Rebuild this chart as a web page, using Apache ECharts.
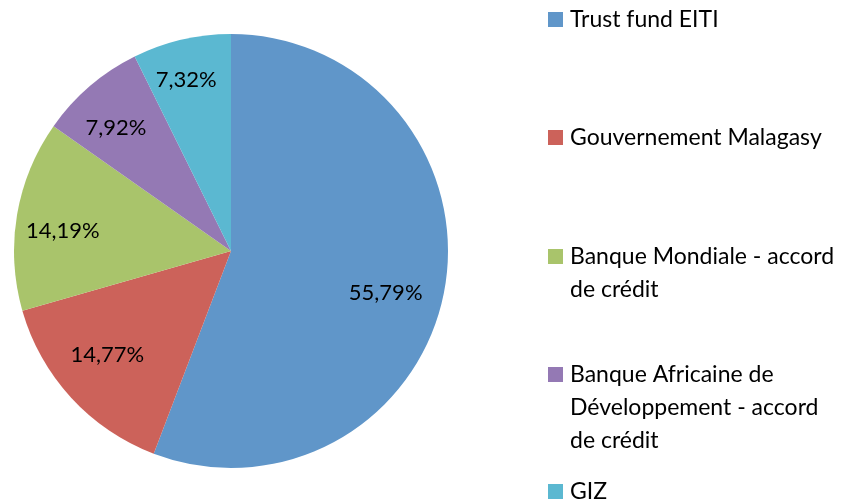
<!DOCTYPE html>
<html>
<head>
<meta charset="utf-8">
<script src="https://cdn.jsdelivr.net/npm/echarts@6/dist/echarts.min.js"></script>
<style>
  html, body { margin: 0; padding: 0; background: #fff; }
  #chart { width: 856px; height: 503px; }
</style>
</head>
<body>
<div id="chart"></div>
<script>
// legend text, split as it wraps in the picture
const legendLines = [
  ['Trust fund EITI'],
  ['Gouvernement Malagasy'],
  ['Banque Mondiale - accord', 'de crédit'],
  ['Banque Africaine de', 'Développement - accord', 'de crédit'],
  ['GIZ']
]
const shares = [55.79, 14.77, 14.19, 7.92, 7.32]
const colors = ['#6096c9', '#cc625a', '#a9c46b', '#9479b4', '#5bb8d1']

// small nudges so the labels sit where excel put them
const labelNudge = [[-13, 11], [2, -11], [0, 8], [-4, 6], [-6, -5]]
const legendTops = [8, 126, 245, 363, 480]
const FONT = 'Lato, "Open Sans", sans-serif'

const names = legendLines.map(l => l.join(' '))
const pieData = names.map((n, i) => ({ name: n, value: shares[i] }))
const labelData = pieData.map((d, i) => Object.assign({ label: { offset: labelNudge[i] } }, d))

var chart = echarts.init(document.getElementById('chart'))

const legends = names.map((n, i) => ({
  data: [n],
  left: 543,
  top: legendTops[i],
  padding: 0,
  itemWidth: 0,
  itemHeight: 0,
  selectedMode: false,
  formatter: () => legendLines[i]
    .map((l, j) => (j === 0 ? '{m|}' : '{s|}') + '{t|' + l + '}')
    .join('\n'),
  textStyle: {
    rich: {
      m: { width: 15, height: 15, backgroundColor: colors[i] },
      s: { width: 15, height: 15 },
      t: { fontFamily: FONT, fontSize: 23, lineHeight: 33, color: '#000', padding: [0, 0, 0, 7] }
    }
  }
}))

chart.setOption({
  animation: false,
  color: colors,
  legend: legends,
  series: [{
    type: 'pie',
    center: [231, 251],
    radius: [0, 217],
    startAngle: 90,
    clockwise: true,
    silent: true,
    label: { show: false },
    labelLine: { show: false },
    data: pieData
  }, {
    // transparent ring only to place the labels further out
    type: 'pie',
    center: [231, 251],
    radius: [118, 217],
    startAngle: 90,
    clockwise: true,
    silent: true,
    itemStyle: { color: 'transparent' },
    label: {
      show: true,
      position: 'inside',
      color: '#000',
      fontFamily: FONT,
      fontSize: 22,
      formatter: p => p.value.toFixed(2).replace('.', ',') + '%'
    },
    labelLine: { show: false },
    data: labelData
  }]
})
</script>
</body>
</html>
